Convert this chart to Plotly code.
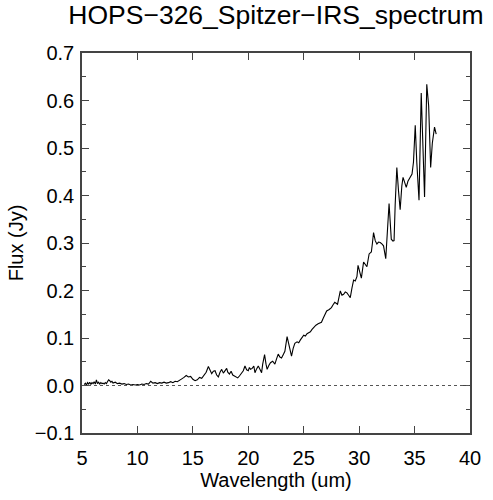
import plotly.graph_objects as go

# IRS spectrum, values
wavelength = [
    5.2, 5.3, 5.4, 5.5, 5.6, 5.7, 5.8, 5.9, 6.0, 6.1, 6.2, 6.3, 6.4, 6.5, 6.6,
    6.7, 6.8, 6.9, 7.0, 7.1, 7.2, 7.3, 7.4, 7.5, 7.6, 7.7, 7.8, 8.0, 8.2, 8.4,
    8.6, 8.8, 9.0, 9.2, 9.4, 9.6, 9.8, 10.0, 10.2, 10.4, 10.6, 10.8, 11.0,
    11.2, 11.4, 11.6, 11.8, 12.0, 12.2, 12.4, 12.6, 12.8, 13.0, 13.2, 13.4,
    13.6, 13.8, 14.0, 14.2, 14.4, 14.6, 14.8, 15.0, 15.2, 15.4, 15.6, 15.8,
    16.0, 16.2, 16.4, 16.55, 16.7, 16.85, 17.0, 17.15, 17.3, 17.45, 17.6,
    17.75, 17.9, 18.05, 18.15, 18.3, 18.45, 18.6, 18.75, 18.9, 19.05, 19.2,
    19.4, 19.55, 19.7, 19.85, 20.0, 20.1, 20.2, 20.35, 20.5, 20.6, 20.75,
    20.9, 21.05, 21.2, 21.3, 21.47, 21.6, 21.7, 21.85, 22.0, 22.2, 22.4,
    22.55, 22.7, 22.85, 23.0, 23.15, 23.3, 23.5, 23.65, 23.8, 23.9, 24.05,
    24.2, 24.4, 24.55, 24.7, 24.85, 25.0, 25.15, 25.3, 25.45, 25.6, 25.75,
    25.9, 26.1, 26.3, 26.45, 26.6, 26.75, 26.9, 27.07, 27.3, 27.5, 27.65,
    27.8, 28.05, 28.2, 28.3, 28.45, 28.6, 28.75, 28.9, 29.05, 29.2, 29.35,
    29.5, 29.65, 29.8, 29.9, 30.05, 30.2, 30.4, 30.55, 30.7, 30.9, 31.1,
    31.2, 31.3, 31.45, 31.6, 31.75, 31.9, 32.05, 32.2, 32.4, 32.55, 32.7,
    32.8, 32.9, 33.05, 33.15, 33.25, 33.4, 33.55, 33.7, 33.85, 33.96, 34.1,
    34.25, 34.4, 34.56, 34.77, 34.9, 35.06, 35.2, 35.4, 35.6, 35.75, 35.9,
    36.1, 36.27, 36.45, 36.6, 36.8, 36.95,
]
flux = [
    0.002, 0.005, 0.001, 0.006, 0.003, 0.007, 0.002, 0.006, 0.004, 0.008,
    0.003, 0.012, 0.004, 0.007, 0.003, 0.006, 0.004, 0.005, 0.003, 0.006,
    0.004, 0.008, 0.012, 0.010, 0.007, 0.009, 0.005, 0.007, 0.004, 0.005,
    0.003, 0.004, 0.002, 0.003, 0.001, 0.002, 0.001, 0.002, 0.001, 0.003,
    0.002, 0.004, 0.003, 0.009, 0.005, 0.006, 0.004, 0.006, 0.005, 0.007,
    0.005, 0.006, 0.008, 0.006, 0.009, 0.008, 0.012, 0.014, 0.017, 0.021,
    0.018, 0.019, 0.013, 0.010, 0.012, 0.017, 0.015, 0.022, 0.028, 0.040,
    0.032, 0.025, 0.030, 0.031, 0.022, 0.018, 0.028, 0.034, 0.026, 0.031,
    0.036, 0.028, 0.024, 0.030, 0.022, 0.020, 0.018, 0.016, 0.020, 0.027,
    0.031, 0.041, 0.033, 0.031, 0.038, 0.034, 0.036, 0.041, 0.027, 0.035,
    0.041, 0.034, 0.027, 0.045, 0.065, 0.045, 0.034, 0.042, 0.048, 0.051,
    0.045, 0.056, 0.066, 0.060, 0.058, 0.065, 0.072, 0.103, 0.088, 0.075,
    0.062, 0.078, 0.089, 0.092, 0.090, 0.096, 0.100, 0.106, 0.104, 0.109,
    0.111, 0.113, 0.118, 0.123, 0.127, 0.130, 0.131, 0.133, 0.141, 0.150,
    0.157, 0.160, 0.164, 0.170, 0.175, 0.171, 0.185, 0.199, 0.190, 0.192,
    0.197, 0.195, 0.190, 0.185, 0.205, 0.222, 0.220, 0.229, 0.253, 0.238,
    0.226, 0.260, 0.255, 0.250, 0.277, 0.281, 0.300, 0.322, 0.305, 0.298,
    0.302, 0.301, 0.298, 0.294, 0.267, 0.330, 0.383, 0.345, 0.308, 0.304,
    0.305, 0.380, 0.459, 0.410, 0.370, 0.420, 0.438, 0.428, 0.417, 0.430,
    0.438, 0.445, 0.470, 0.548, 0.470, 0.390, 0.616, 0.500, 0.397, 0.634,
    0.589, 0.459, 0.510, 0.544, 0.529,
]

title_text = "HOPS−326_Spitzer−IRS_spectrum"

fig = go.Figure()

fig.add_trace(go.Scatter(
    x=wavelength, y=flux,
    mode="lines",
    line=dict(color="black", width=1.1),
    showlegend=False,
))

# dotted zero level across the plot
fig.add_hline(y=0, line=dict(color="#555555", width=1, dash="dot"))

axis_common = dict(
    showgrid=False,
    zeroline=False,
    showline=True,
    linecolor="#444444",
    linewidth=1.5,
    mirror="ticks",
    ticks="inside",
    tickcolor="#444444",
    tickwidth=1,
    ticklen=7,
    tickfont=dict(size=20, color="black"),
)

fig.update_layout(
    width=493, height=500,
    margin=dict(l=82, r=20, t=53, b=56),
    paper_bgcolor="white",
    plot_bgcolor="white",
    font=dict(family="Liberation Sans, Arial, sans-serif", color="black"),
    title=dict(text=title_text, xref="paper", x=0.5, xanchor="center",
               yref="container", y=0.97, yanchor="middle",
               font=dict(size=26.5)),
    xaxis=dict(
        range=[5, 40], dtick=5, tick0=5,
        title=dict(text="Wavelength (um)", font=dict(size=20), standoff=5),
        ticklabelstandoff=6,
        **axis_common,
    ),
    yaxis=dict(
        range=[-0.1, 0.7], dtick=0.1, tickformat=".1f",
        title=dict(text="Flux (Jy)", font=dict(size=20), standoff=6),
        minor=dict(dtick=0.05, ticks="inside", ticklen=4,
                   tickcolor="#444444"),
        ticklabelstandoff=2,
        **axis_common,
    ),
)

# drop the page's default body margin so the figure sits at the window corner
fig.write_html("out.html", config={"displayModeBar": False},
               post_script="document.body.style.margin='0';")
